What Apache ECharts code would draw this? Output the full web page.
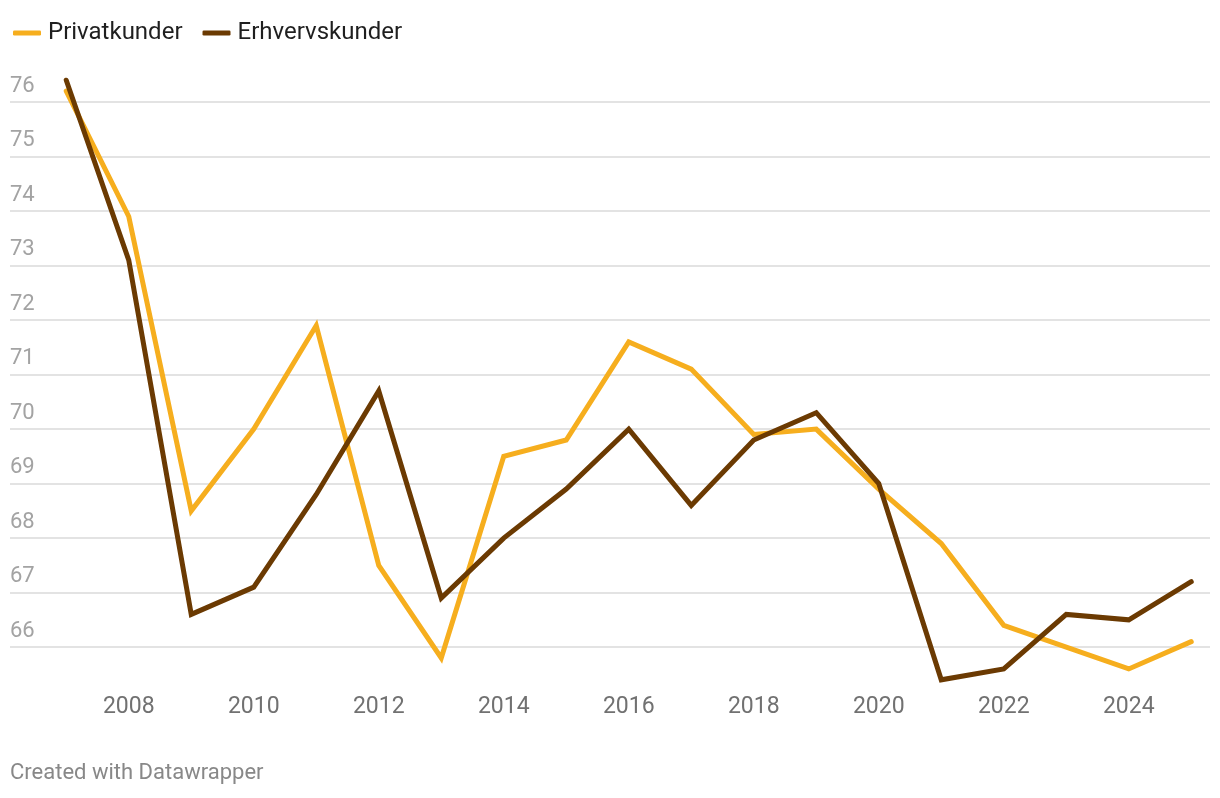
<!DOCTYPE html>
<html>
<head>
<meta charset="utf-8">
<script src="https://cdn.jsdelivr.net/npm/echarts@6/dist/echarts.min.js"></script>
<style>
html,body{margin:0;padding:0;background:#fff;}
#chart{width:1220px;height:798px;}
</style>
</head>
<body>
<div id="chart"></div>
<script>
const years = [2007,2008,2009,2010,2011,2012,2013,2014,2015,2016,2017,2018,2019,2020,2021,2022,2023,2024,2025];
const privatkunder = [76.2,73.9,68.5,70.0,71.9,67.5,65.8,69.5,69.8,71.6,71.1,69.9,70.0,68.9,67.9,66.4,66.0,65.6,66.1];
const erhvervskunder = [76.4,73.1,66.6,67.1,68.8,70.7,66.9,68.0,68.9,70.0,68.6,69.8,70.3,69.0,65.4,65.6,66.6,66.5,67.2];
const seriesNames = ['Privatkunder','Erhvervskunder'];
const footerText = 'Created with Datawrapper';

const pair = (xs, ys) => xs.map((x, i) => [x, ys[i]]);
const FONT = 'Roboto, "Noto Sans", sans-serif';

const chart = echarts.init(document.getElementById('chart'), null, {renderer: 'canvas'});
chart.setOption({
  animation: false,
  backgroundColor: '#ffffff',
  textStyle: {fontFamily: FONT},
  legend: {
    left: 8,
    top: 16,
    icon: 'roundRect',
    itemWidth: 28,
    itemHeight: 5,
    itemGap: 20,
    textStyle: {fontSize: 24, color: '#1f1f1f', fontFamily: FONT, padding: [0,0,0,2]},
    data: seriesNames
  },
  grid: {left: 10, right: 10, top: 74.75, bottom: 110, containLabel: false},
  xAxis: {
    type: 'value',
    min: 2006.1,
    max: 2025.3,
    interval: 0.1,
    axisLine: {show: false},
    axisTick: {show: false},
    splitLine: {show: false},
    axisLabel: {
      margin: 8,
      fontSize: 23,
      color: '#717171',
      fontFamily: FONT,
      showMinLabel: false,
      showMaxLabel: false,
      formatter: function (v) {
        const r = Math.round(v);
        return (Math.abs(v - r) < 1e-6 && r % 2 === 0) ? String(r) : '';
      }
    }
  },
  yAxis: {
    type: 'value',
    min: 65.25,
    max: 76.5,
    interval: 0.25,
    axisLine: {show: false},
    axisTick: {show: false},
    splitLine: {show: true, lineStyle: {color: ['rgba(0,0,0,0)','rgba(0,0,0,0)','rgba(0,0,0,0)','#e3e3e3'], width: 2}},
    axisLabel: {
      inside: true,
      margin: 0,
      fontSize: 22,
      color: '#a3a3a3',
      fontFamily: FONT,
      verticalAlign: 'bottom',
      padding: [0,0,5,0],
      formatter: function (v) {
        const r = Math.round(v);
        return Math.abs(v - r) < 1e-6 ? String(r) : '';
      }
    }
  },
  series: [
    {
      name: seriesNames[0],
      type: 'line',
      data: pair(years, privatkunder),
      showSymbol: false,
      symbol: 'none',
      color: '#f6ae1e',
      lineStyle: {width: 5, color: '#f6ae1e', cap: 'round', join: 'miter'}
    },
    {
      name: seriesNames[1],
      type: 'line',
      data: pair(years, erhvervskunder),
      showSymbol: false,
      symbol: 'none',
      color: '#6b3a02',
      lineStyle: {width: 5, color: '#6b3a02', cap: 'round', join: 'miter'}
    }
  ],
  graphic: [{
    type: 'text',
    left: 10,
    top: 762,
    style: {text: footerText, fontSize: 22, fill: '#888888', fontFamily: FONT}
  }]
});
</script>
</body>
</html>
